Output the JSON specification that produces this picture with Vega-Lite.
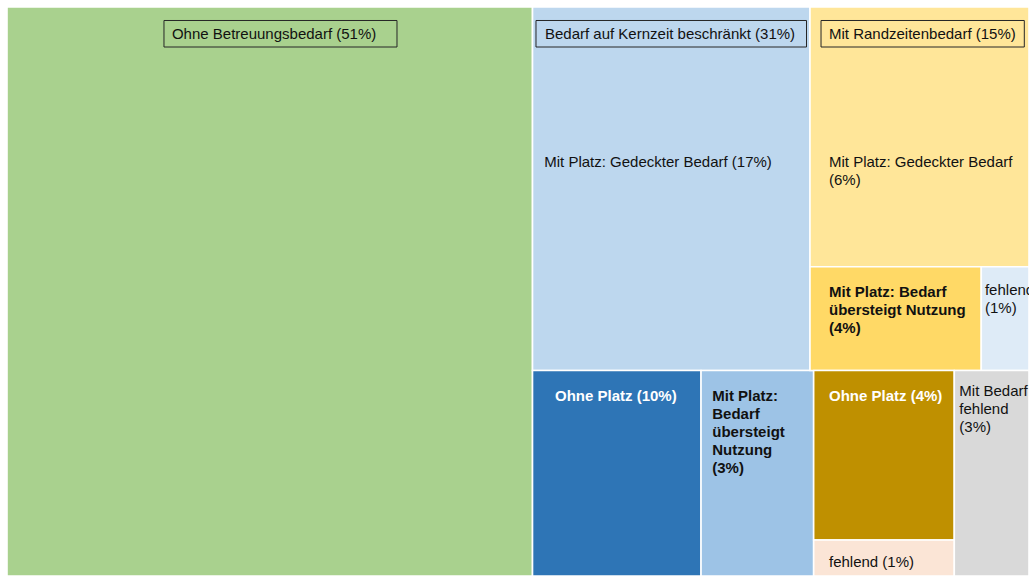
{
  "$schema": "https://vega.github.io/schema/vega-lite/v6.json",
  "width": 1022,
  "height": 569,
  "autosize": {"type": "none"},
  "padding": {"left": 7, "top": 7, "right": 0, "bottom": 0},
  "background": "white",
  "config": {"view": {"stroke": null}, "text": {"font": "Liberation Sans", "fontSize": 15, "lineHeight": 18}},
  "datasets": {
    "cells": [
      {"cell": "Ohne Betreuungsbedarf", "x0": 0, "x1": 51.42, "y0": 0, "y1": 100},
      {"cell": "Kernzeit: Mit Platz gedeckt", "x0": 51.42, "x1": 78.57, "y0": 0, "y1": 63.88},
      {"cell": "Kernzeit: Ohne Platz", "x0": 51.42, "x1": 67.91, "y0": 63.88, "y1": 100},
      {"cell": "Kernzeit: Bedarf übersteigt Nutzung", "x0": 67.91, "x1": 78.93, "y0": 63.88, "y1": 100},
      {"cell": "Randzeit: Mit Platz gedeckt", "x0": 78.57, "x1": 100, "y0": 0, "y1": 45.64},
      {"cell": "Randzeit: Bedarf übersteigt Nutzung", "x0": 78.57, "x1": 95.33, "y0": 45.64, "y1": 63.88},
      {"cell": "Randzeit: fehlend", "x0": 95.33, "x1": 100, "y0": 45.64, "y1": 63.88},
      {"cell": "Randzeit: Ohne Platz", "x0": 78.93, "x1": 92.69, "y0": 63.88, "y1": 93.67},
      {"cell": "Randzeit: Ohne Platz fehlend", "x0": 78.93, "x1": 92.69, "y0": 93.67, "y1": 100},
      {"cell": "Mit Bedarf fehlend", "x0": 92.69, "x1": 100, "y0": 63.88, "y1": 100}
    ],
    "headers": [
      {"label": "Ohne Betreuungsbedarf (51%)", "bx0": 15.36, "bx1": 38.16, "by0": 2.37, "by1": 7.03, "tx": 16.14, "ty": 5.54},
      {"label": "Bedarf auf Kernzeit beschränkt (31%)", "bx0": 51.76, "bx1": 78.23, "by0": 2.37, "by1": 7.03, "tx": 52.64, "ty": 5.54},
      {"label": "Mit Randzeitenbedarf (15%)", "bx0": 79.65, "bx1": 99.54, "by0": 2.37, "by1": 7.03, "tx": 80.43, "ty": 5.54}
    ],
    "labels": [
      {"lines": ["Mit Platz: Gedeckter Bedarf (17%)"], "kind": "normal", "tx": 52.57, "ty": 28.2},
      {"lines": ["Mit Platz: Gedeckter Bedarf", "(6%)"], "kind": "normal", "tx": 80.43, "ty": 28.2},
      {"lines": ["Mit Platz: Bedarf", "übersteigt Nutzung", "(4%)"], "kind": "bold", "tx": 80.43, "ty": 51.05},
      {"lines": ["fehlend", "(1%)"], "kind": "normal", "tx": 95.69, "ty": 50.62},
      {"lines": ["Ohne Platz (10%)"], "kind": "white", "tx": 53.62, "ty": 69.24},
      {"lines": ["Mit Platz:", "Bedarf", "übersteigt", "Nutzung", "(3%)"], "kind": "bold", "tx": 69.01, "ty": 69.24},
      {"lines": ["Ohne Platz (4%)"], "kind": "white", "tx": 80.43, "ty": 69.24},
      {"lines": ["Mit Bedarf", "fehlend", "(3%)"], "kind": "normal", "tx": 93.18, "ty": 68.37},
      {"lines": ["fehlend (1%)"], "kind": "normal", "tx": 80.43, "ty": 98.42}
    ]
  },
  "layer": [
    {
      "data": {"name": "cells"},
      "mark": {"type": "rect", "stroke": "white", "strokeWidth": 1.6},
      "encoding": {
        "x": {"field": "x0", "type": "quantitative", "scale": {"domain": [0, 100], "nice": false, "zero": false}, "axis": null},
        "x2": {"field": "x1"},
        "y": {"field": "y0", "type": "quantitative", "scale": {"domain": [0, 100], "nice": false, "zero": false, "reverse": true}, "axis": null},
        "y2": {"field": "y1"},
        "color": {
          "field": "cell", "type": "nominal", "legend": null,
          "scale": {
            "domain": ["Ohne Betreuungsbedarf", "Kernzeit: Mit Platz gedeckt", "Kernzeit: Ohne Platz", "Kernzeit: Bedarf übersteigt Nutzung", "Randzeit: Mit Platz gedeckt", "Randzeit: Bedarf übersteigt Nutzung", "Randzeit: fehlend", "Randzeit: Ohne Platz", "Randzeit: Ohne Platz fehlend", "Mit Bedarf fehlend"],
            "range": ["#A9D18E", "#BDD7EE", "#2E75B6", "#9DC3E6", "#FFE699", "#FFD966", "#DEEBF7", "#BF9000", "#FBE5D6", "#D9D9D9"]
          }
        }
      }
    },
    {
      "data": {"name": "headers"},
      "mark": {"type": "rect", "fill": null, "fillOpacity": 0, "stroke": "#262626", "strokeWidth": 1},
      "encoding": {
        "x": {"field": "bx0", "type": "quantitative"},
        "x2": {"field": "bx1"},
        "y": {"field": "by0", "type": "quantitative"},
        "y2": {"field": "by1"}
      }
    },
    {
      "data": {"name": "headers"},
      "mark": {"type": "text", "align": "left", "baseline": "alphabetic", "color": "#111111"},
      "encoding": {
        "x": {"field": "tx", "type": "quantitative"},
        "y": {"field": "ty", "type": "quantitative"},
        "text": {"field": "label"}
      }
    },
    {
      "data": {"name": "labels"},
      "transform": [{"filter": "datum.kind === 'normal'"}],
      "mark": {"type": "text", "align": "left", "baseline": "alphabetic", "color": "#111111"},
      "encoding": {
        "x": {"field": "tx", "type": "quantitative"},
        "y": {"field": "ty", "type": "quantitative"},
        "text": {"field": "lines"}
      }
    },
    {
      "data": {"name": "labels"},
      "transform": [{"filter": "datum.kind === 'bold'"}],
      "mark": {"type": "text", "align": "left", "baseline": "alphabetic", "color": "#111111", "fontWeight": "bold"},
      "encoding": {
        "x": {"field": "tx", "type": "quantitative"},
        "y": {"field": "ty", "type": "quantitative"},
        "text": {"field": "lines"}
      }
    },
    {
      "data": {"name": "labels"},
      "transform": [{"filter": "datum.kind === 'white'"}],
      "mark": {"type": "text", "align": "left", "baseline": "alphabetic", "color": "#FFFFFF", "fontWeight": "bold"},
      "encoding": {
        "x": {"field": "tx", "type": "quantitative"},
        "y": {"field": "ty", "type": "quantitative"},
        "text": {"field": "lines"}
      }
    }
  ]
}
